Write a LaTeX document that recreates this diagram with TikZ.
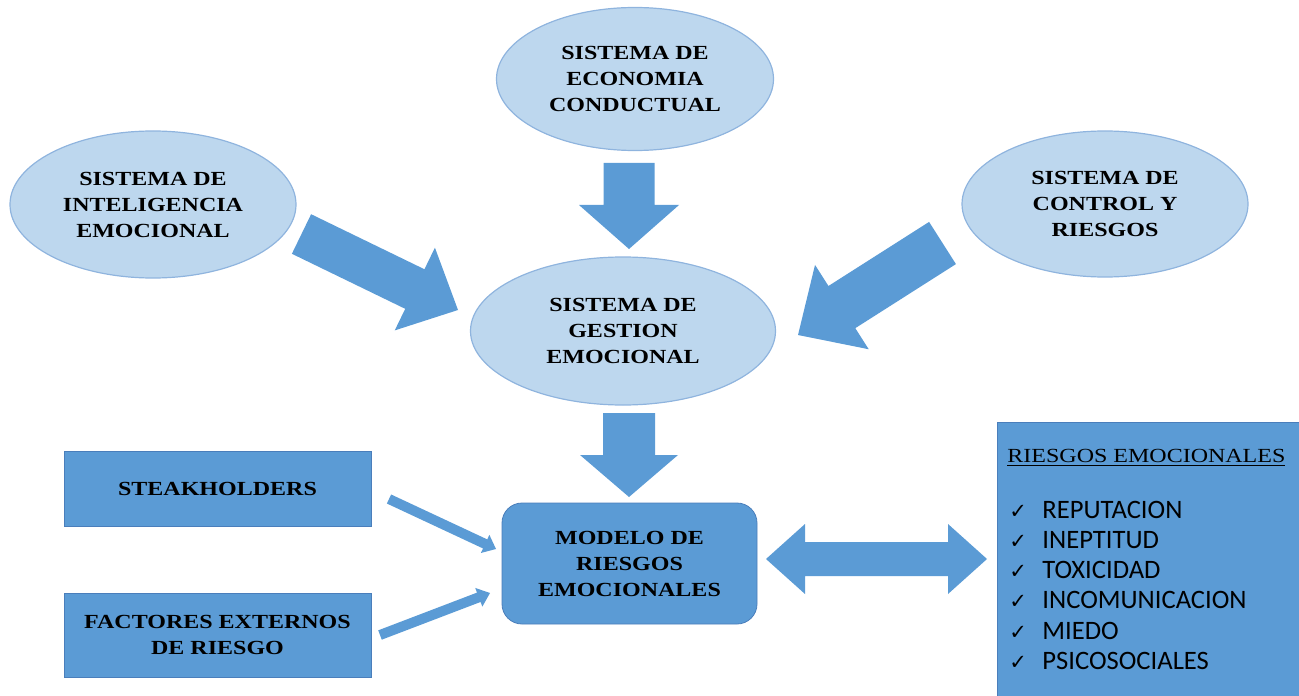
\documentclass[tikz,border=0pt]{standalone}
\usepackage{fontspec}
\setmainfont{Liberation Serif}[FakeStretch=1.2]
\newfontfamily\listfont{Carlito}
\newfontfamily\symfont{DejaVu Sans}
\usetikzlibrary{shapes.geometric,calc}

\definecolor{boxblue}{HTML}{5B9BD5}
\definecolor{paleblue}{HTML}{BDD7EE}
\definecolor{rimblue}{HTML}{8FB4DE}
\definecolor{edgeblue}{HTML}{4A7EBB}

\tikzset{
  sysnode/.style={ellipse, fill=paleblue, draw=rimblue, line width=0.6pt,
    inner sep=0pt, align=center, font=\bfseries\fontsize{10}{13}\selectfont},
  boxnode/.style={rectangle, fill=boxblue, draw=edgeblue, line width=0.4pt,
    inner sep=0pt, align=center, font=\bfseries\fontsize{10}{13}\selectfont},
  arrowfill/.style={fill=boxblue},
  titletext/.style={anchor=base west, inner sep=0pt, font=\fontsize{10}{12}\selectfont},
  itemcheck/.style={anchor=base west, inner sep=0pt, font=\symfont\fontsize{10.5}{12}\selectfont},
  itemtext/.style={anchor=base west, inner sep=0pt, font=\listfont\fontsize{13.3}{16}\selectfont},
}

% block arrow: tail, tip, half shaft width, half head width, head length
\newcommand\blockarrow[5]{%
  \coordinate (neck-#1) at ($(#2)!#5!(#1)$);
  \fill[arrowfill] ($(#1)!#3!90:(#2)$) -- ($(neck-#1)!#3!90:(#2)$)
    -- ($(neck-#1)!#4!90:(#2)$) -- (#2) -- ($(neck-#1)!#4!-90:(#2)$)
    -- ($(neck-#1)!#3!-90:(#2)$) -- ($(#1)!#3!-90:(#2)$) -- cycle;
}
% two-headed block arrow: left tip, right tip, half shaft, half head, head length
\newcommand\twowayarrow[5]{%
  \coordinate (nl-#1) at ($(#1)!#5!(#2)$);
  \coordinate (nr-#1) at ($(#2)!#5!(#1)$);
  \fill[arrowfill] (#1) -- ($(nl-#1)!#4!90:(#2)$) -- ($(nl-#1)!#3!90:(#2)$)
    -- ($(nr-#1)!#3!-90:(#1)$) -- ($(nr-#1)!#4!-90:(#1)$) -- (#2)
    -- ($(nr-#1)!#4!90:(#1)$) -- ($(nr-#1)!#3!90:(#1)$)
    -- ($(nl-#1)!#3!-90:(#2)$) -- ($(nl-#1)!#4!-90:(#2)$) -- cycle;
}

\begin{document}
\begin{tikzpicture}[x=0.5pt, y=-0.5pt]
\useasboundingbox (0,0) rectangle (1299,695);
\clip (0,0) rectangle (1299,695);

% systems
\node[sysnode, minimum width=138.5pt, minimum height=71.5pt] (eco) at (635,79)
  {SISTEMA DE\\ECONOMIA\\CONDUCTUAL};
\node[sysnode, minimum width=143pt, minimum height=73.5pt] (intel) at (153,204.5)
  {SISTEMA DE\\INTELIGENCIA\\EMOCIONAL};
\node[sysnode, minimum width=143pt, minimum height=73pt] (ctrl) at (1105,204)
  {SISTEMA DE\\CONTROL Y\\RIESGOS};
\node[sysnode, minimum width=152.5pt, minimum height=74pt] (gest) at (623,331)
  {SISTEMA DE\\GESTION\\EMOCIONAL};

% inputs and model
\node[boxnode, minimum width=153.5pt, minimum height=37.5pt] (stk) at (217.5,488.5)
  {STEAKHOLDERS};
\node[boxnode, minimum width=153.5pt, minimum height=42pt] (fac) at (217.5,635)
  {FACTORES EXTERNOS\\DE RIESGO};
\node[boxnode, rounded corners=10pt, minimum width=127.5pt, minimum height=60.5pt]
  (mod) at (629.5,563.5) {MODELO DE\\RIESGOS\\EMOCIONALES};

% list of emotional risks
\node[boxnode, anchor=north west, minimum width=156pt, minimum height=142pt]
  (risk) at (997,422) {};
\node[titletext] (risktitle) at (1007,462) {\underline{RIESGOS EMOCIONALES}};
\foreach \name/\txt/\yy in {r1/REPUTACION/510, r2/INEPTITUD/540, r3/TOXICIDAD/570,
    r4/INCOMUNICACION/600, r5/MIEDO/631, r6/PSICOSOCIALES/661} {
  \node[itemcheck] (\name c) at (1009,\yy+8.5) {✓};
  \node[itemtext] (\name) at (1042,\yy+8.5) {\txt};
}

% arrow end points
\coordinate (ecoout) at (629,163);   \coordinate (gestin) at (629,249);
\coordinate (gestout) at (629,413);  \coordinate (modin) at (629,497);
\coordinate (intout) at (301.5,234); \coordinate (gestinl) at (458,310);
\coordinate (ctrlout) at (942.5,243);\coordinate (gestinr) at (798,335);
\coordinate (stkout) at (389,499);   \coordinate (modinu) at (496,549);
\coordinate (facout) at (380,635);   \coordinate (modinl) at (490,593);
\coordinate (modout) at (766,559);   \coordinate (riskin) at (987,559);

\blockarrow{ecoout}{gestin}{12.75pt}{25pt}{22pt}
\blockarrow{gestout}{modin}{13pt}{24.5pt}{21pt}
\blockarrow{intout}{gestinl}{11pt}{23pt}{24pt}
\blockarrow{ctrlout}{gestinr}{12.5pt}{25pt}{26pt}
\blockarrow{stkout}{modinu}{2.5pt}{5pt}{6pt}
\blockarrow{facout}{modinl}{2.5pt}{5pt}{6pt}
\twowayarrow{modout}{riskin}{8.5pt}{17.5pt}{19.5pt}
\end{tikzpicture}
\end{document}
